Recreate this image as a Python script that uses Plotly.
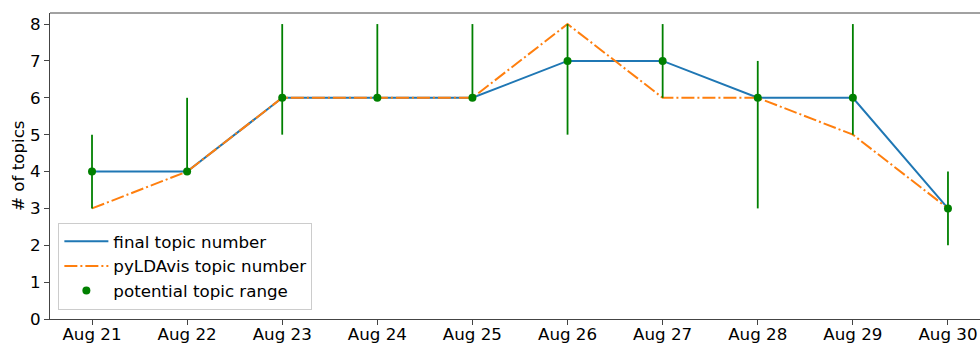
import plotly.graph_objects as go

# Daily topic counts
dates = ["2020-08-21", "2020-08-22", "2020-08-23", "2020-08-24", "2020-08-25",
         "2020-08-26", "2020-08-27", "2020-08-28", "2020-08-29", "2020-08-30"]
final_topics = [4, 4, 6, 6, 6, 7, 7, 6, 6, 3]
pyldavis_topics = [3, 4, 6, 6, 6, 8, 6, 6, 5, 3]
range_low = [3, 4, 5, 6, 6, 5, 6, 3, 5, 2]
range_high = [5, 6, 8, 8, 8, 8, 8, 7, 8, 4]
y_ticks = [0, 1, 2, 3, 4, 5, 6, 7, 8]

err_plus = [h - c for h, c in zip(range_high, final_topics)]
err_minus = [c - l for l, c in zip(range_low, final_topics)]

FONT = "DejaVu Sans"
FS = 16.7
fig = go.Figure()

fig.add_trace(go.Scatter(
    x=dates, y=final_topics, mode="lines", name="final topic number",
    line=dict(color="#1f77b4", width=2),
))
fig.add_trace(go.Scatter(
    x=dates, y=pyldavis_topics, mode="lines", name="pyLDAvis topic number",
    line=dict(color="#ff7f0e", width=2, dash="13px,3px,2px,3px"),
))
fig.add_trace(go.Scatter(
    x=dates, y=final_topics, mode="markers", name="potential topic range",
    marker=dict(color="green", size=8),
    error_y=dict(type="data", symmetric=False, array=err_plus,
                 arrayminus=err_minus, color="green", thickness=1.8, width=0),
))

fig.update_layout(
    width=980, height=343,
    margin=dict(l=50, r=0, t=13, b=24, autoexpand=False),
    plot_bgcolor="white", paper_bgcolor="white",
    font=dict(family=FONT, size=FS, color="black"),
    showlegend=True,
    legend=dict(
        x=0.009, y=0.03, xanchor="left", yanchor="bottom",
        bgcolor="rgba(255,255,255,0.8)", bordercolor="#cccccc", borderwidth=1,
        font=dict(family=FONT, size=FS), tracegroupgap=0, itemwidth=44,
    ),
)
fig.update_xaxes(
    type="date", range=["2020-08-20 13:24", "2020-08-30 08:05"],
    tickformat="%b %d", tickvals=dates, automargin=False,
    showgrid=False, zeroline=False,
    showline=True, linecolor="#444", linewidth=1, mirror=False,
    ticks="outside", ticklen=5, tickcolor="#444", ticklabelstandoff=-5,
)
fig.update_yaxes(
    range=[0, 8.3], tickvals=y_ticks, automargin=False,
    showgrid=False, zeroline=False,
    showline=True, linecolor="#444", linewidth=1,
    ticks="outside", ticklen=5, tickcolor="#444",
)
# y-axis title
fig.add_annotation(
    text="# of topics", xref="paper", yref="paper", x=-0.0344, y=0.5,
    xanchor="center", yanchor="middle", textangle=-90, showarrow=False,
    font=dict(family=FONT, size=FS),
)
# top frame edge
fig.add_shape(type="line", xref="paper", yref="paper", x0=0, x1=1, y0=1, y1=1,
              line=dict(color="#444", width=1))

fig.write_html("out.html")
